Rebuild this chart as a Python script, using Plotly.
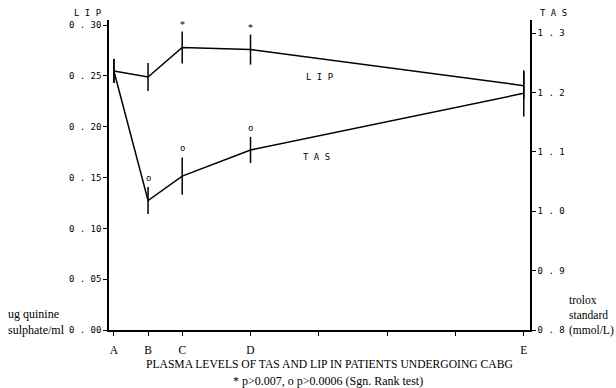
import plotly.graph_objects as go

# Sampling points (time axis, A..E) and their positions
stages = ["A", "B", "C", "D", "E"]
stage_pos = [0, 0.5, 1, 2, 6]
extra_ticks = [3, 4, 5]

# Lipid peroxidation (LIP), ug quinine sulphate/ml
lip = [0.255, 0.249, 0.278, 0.276, 0.2405]
lip_err = [0.012, 0.0137, 0.0157, 0.0148, 0.013]

# Total antioxidant status (TAS), trolox standard (mmol/L)
tas = [1.236, 1.018, 1.059, 1.103, 1.1985]
tas_err = [0.02, 0.0227, 0.0315, 0.022, 0.039]

# Significance marks
lip_marks = ["", "", "*", "*", ""]
tas_marks = ["", "o", "o", "o", ""]

left_ticks = [0.0, 0.05, 0.10, 0.15, 0.20, 0.25, 0.30]
left_ticktext = ["0 . 00", "0 . 05", "0 . 10", "0 . 15", "0 . 20", "0 . 25", "0 . 30"]
right_ticks = [0.8, 0.9, 1.0, 1.1, 1.2, 1.3]
right_ticktext = ["0 . 8", "0 . 9", "1 . 0", "1 . 1", "1 . 2", "1 . 3"]

MONO = "DejaVu Sans Mono"
SERIF = "Liberation Serif"

W, H = 616, 388
ML, MR, MT, MB = 109, 86, 20, 58
pw, ph = W - ML - MR, H - MT - MB


def px_to_paper(px, py):
    return (px - ML) / pw, (H - MB - py) / ph


fig = go.Figure()

fig.add_trace(go.Scatter(
    x=stage_pos, y=lip, mode="lines", yaxis="y",
    line=dict(color="black", width=1.5),
    error_y=dict(type="data", array=lip_err, color="black", thickness=1.5, width=0),
    showlegend=False,
))
fig.add_trace(go.Scatter(
    x=stage_pos, y=tas, mode="lines", yaxis="y2",
    line=dict(color="black", width=1.5),
    error_y=dict(type="data", array=tas_err, color="black", thickness=1.5, width=0),
    showlegend=False,
))

for xp, v, e, m in zip(stage_pos, lip, lip_err, lip_marks):
    if m:
        fig.add_annotation(x=xp, y=v + e, xref="x", yref="y", text=m,
                           showarrow=False, xanchor="center", yanchor="middle", yshift=7,
                           font=dict(family=SERIF, size=10, color="black"))
for xp, v, e, m in zip(stage_pos, tas, tas_err, tas_marks):
    if m:
        fig.add_annotation(x=xp, y=v + e, xref="x", yref="y2", text=m,
                           showarrow=False, xanchor="center", yanchor="middle", yshift=9,
                           font=dict(family=MONO, size=9, color="black"))

# Series labels inside the plot
fig.add_annotation(x=3.01, y=0.249, xref="x", yref="y", text="L I P", showarrow=False,
                   xanchor="center", yanchor="middle",
                   font=dict(family=MONO, size=9, color="black"))
fig.add_annotation(x=2.97, y=1.091, xref="x", yref="y2", text="T A S", showarrow=False,
                   xanchor="center", yanchor="middle",
                   font=dict(family=MONO, size=9, color="black"))

# Axis headings, unit labels and captions, placed in pixels
texts = [
    (88, 13, "L I P", "center", MONO, 9),
    (553, 13, "T A S", "center", MONO, 9),
    (6, 322, "ug quinine<br>sulphate/ml", "left", SERIF, 12),
    (567, 315, "trolox<br>standard<br>(mmol/L)", "left", SERIF, 11.5),
    (329, 364, "PLASMA LEVELS OF TAS AND LIP IN PATIENTS UNDERGOING CABG", "center", SERIF, 11.6),
    (328, 380.5, "* p&gt;0.007, o p&gt;0.0006 (Sgn. Rank test)", "center", SERIF, 12),
]
for px, py, txt, align, fam, size in texts:
    xp, yp = px_to_paper(px, py)
    fig.add_annotation(x=xp, y=yp, xref="paper", yref="paper", text=txt, showarrow=False,
                       xanchor=align, yanchor="middle", align=align,
                       font=dict(family=fam, size=size, color="black"))

fig.update_layout(
    width=W, height=H,
    margin=dict(l=ML, r=MR, t=MT, b=MB),
    paper_bgcolor="white", plot_bgcolor="white",
    xaxis=dict(
        range=[-0.0716, 6.091],
        tickvals=stage_pos + extra_ticks,
        ticktext=stages + ["", "", ""],
        ticks="outside", ticklen=4, tickwidth=1.2, tickcolor="black",
        showline=True, linecolor="black", linewidth=1.5,
        showgrid=False, zeroline=False,
        ticklabelstandoff=4,
        tickfont=dict(family=SERIF, size=11.5, color="black"),
    ),
    yaxis=dict(
        range=[0, 0.3051],
        tickvals=left_ticks, ticktext=left_ticktext,
        ticks="outside", ticklen=4, tickwidth=1.2, tickcolor="black",
        showline=True, linecolor="black", linewidth=1.5,
        showgrid=False, zeroline=False,
        tickfont=dict(family=MONO, size=9, color="black"),
    ),
    yaxis2=dict(
        range=[0.8, 1.3219], overlaying="y", side="right",
        tickvals=right_ticks, ticktext=right_ticktext,
        ticks="outside", ticklen=4, tickwidth=1.2, tickcolor="black",
        showline=True, linecolor="black", linewidth=1.5,
        showgrid=False, zeroline=False,
        tickfont=dict(family=MONO, size=9, color="black"),
    ),
)

fig.write_html("out.html")
